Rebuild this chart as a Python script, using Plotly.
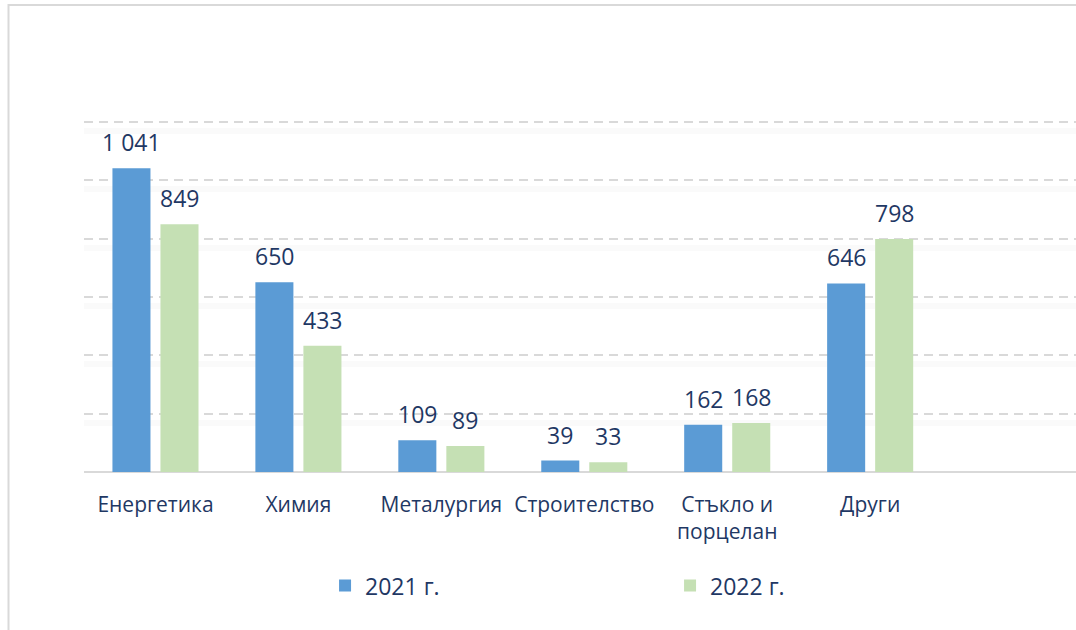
import plotly.graph_objects as go

categories = ["Енергетика", "Химия", "Металургия", "Строителство", "Стъкло и<br>порцелан", "Други"]
values_2021 = [1041, 650, 109, 39, 162, 646]
values_2022 = [849, 433, 89, 33, 168, 798]
series_names = ["2021 г.", "2022 г."]
y_ticks = [200, 400, 600, 800, 1000, 1200]

BLUE = "#5B9BD5"
GREEN = "#C5E0B4"
TEXT = "#1F3864"
FONT = "Open Sans"

fig = go.Figure()
fig.add_trace(go.Bar(x=categories, y=values_2021, name=series_names[0],
                     marker=dict(color=BLUE, line=dict(width=0))))
fig.add_trace(go.Bar(x=categories, y=values_2022, name=series_names[1],
                     marker=dict(color=GREEN, line=dict(width=0))))

def fmt(v):
    return f"{v:,}".replace(",", " ")

for vals, shift in ((values_2021, -24), (values_2022, 24)):
    for c, v in zip(categories, vals):
        fig.add_annotation(x=c, y=v, text=fmt(v), showarrow=False,
                           xshift=shift, yshift=26, yanchor="middle",
                           font=dict(family=FONT, size=23, color=TEXT))

# faint shadow under gridlines via an overlaid axis
fig.add_trace(go.Scatter(x=[categories[0]], y=[None], yaxis="y2", showlegend=False, hoverinfo="skip"))

fig.add_shape(type="rect", xref="paper", yref="paper",
              x0=-0.0761, x1=1.05, y0=-0.6, y1=1.3195,
              line=dict(color="#D9D9D9", width=2), fillcolor="rgba(0,0,0,0)", layer="below")

fig.update_layout(
    width=1076, height=630,
    margin=dict(l=84, r=0, t=118, b=158),
    paper_bgcolor="white", plot_bgcolor="white",
    bargap=0.328, bargroupgap=0.208,
    font=dict(family=FONT, color=TEXT, size=21),
    xaxis=dict(range=[-0.5, 6.44], showgrid=False, showline=False, zeroline=False,
               ticks="", tickfont=dict(size=21, color=TEXT), ticklabelstandoff=18,
               automargin=False),
    yaxis=dict(range=[0, 1213], tickvals=y_ticks, showticklabels=False,
               showgrid=True, gridcolor="#D9D9D9", gridwidth=2, griddash="9px,6px",
               zeroline=True, zerolinecolor="#D9D9D9", zerolinewidth=2, showline=False,
               automargin=False),
    yaxis2=dict(range=[31, 1244], overlaying="y", tickvals=y_ticks, showticklabels=False,
                showgrid=True, gridcolor="rgba(0,0,0,0.018)", gridwidth=6,
                zeroline=False, showline=False),
    legend=dict(orientation="h", x=0.243, xanchor="left", y=-0.321, yanchor="middle",
                font=dict(size=23, color=TEXT), entrywidth=300, traceorder="normal"),
    showlegend=True,
)
fig.write_html("out.html", config={"displayModeBar": False},
               post_script="document.body.style.margin='0';")
